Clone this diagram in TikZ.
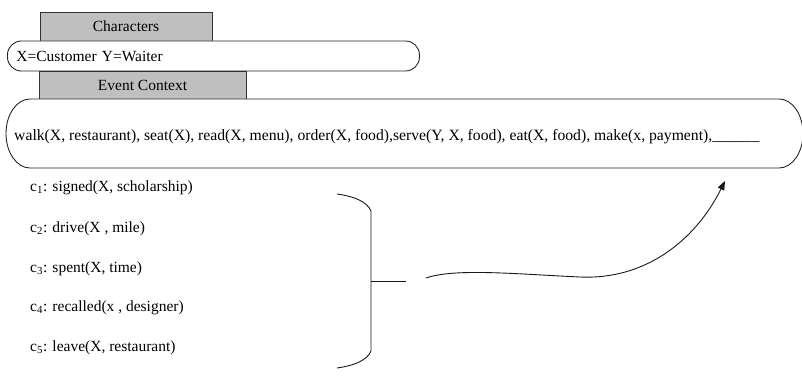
\documentclass[tikz,border=0pt]{standalone}
\usepackage{fontspec}
\setmainfont{Liberation Serif}
\usetikzlibrary{arrows.meta}
\begin{document}
\begin{tikzpicture}[x=1pt,y=1pt,
  txt/.style={font=\fontsize{15.5}{18}\selectfont, inner sep=0pt},
  tab/.style={draw=black!80, line width=0.9pt, fill=black!25, inner sep=0pt,
    font=\fontsize{15.5}{18}\selectfont},
  pill/.style={draw=black!85, line width=0.9pt, fill=white, align=left,
    font=\fontsize{15.5}{18}\selectfont, inner ysep=0pt},
  frame/.style={draw=black!85, line width=0.9pt, fill=white},
  link/.style={line width=0.9pt, black!90}]
\useasboundingbox (0,0) rectangle (802,391);

% header tabs
\node[tab, minimum width=172, minimum height=29] (chars) at (126,364.5) {Characters};
\node[tab, minimum width=207, minimum height=28] (evtab) at (142.5,306) {Event Context};

% character binding
\node[pill, anchor=west, rounded corners=14, minimum height=30,
  text width=394, inner xsep=9] (bind) at (7,335) {X=Customer Y=Waiter};

% event sequence: long box with elliptical ends
\coordinate (evl) at (30,292);
\coordinate (evr) at (779,223);
\draw[frame] (evl) -- (779,292)
  arc[start angle=90, end angle=-90, x radius=24, y radius=34.5]
  -- (30,223)
  arc[start angle=270, end angle=90, x radius=24, y radius=34.5] -- cycle;
\node[txt, anchor=west, font=\fontsize{15.7}{18}\selectfont] (events) at (14,254)
  {walk(X, restaurant), seat(X), read(X, menu), order(X, food),serve(Y, X, food), eat(X, food), make(x, payment),\_\_\_\_\_\_};

% candidate events
\node[txt, anchor=west] (c1) at (30,203) {c\textsubscript{1}: signed(X, scholarship)};
\node[txt, anchor=west] (c2) at (30,162.5) {c\textsubscript{2}: drive(X , mile)};
\node[txt, anchor=west] (c3) at (30,122.5) {c\textsubscript{3}: spent(X, time)};
\node[txt, anchor=west] (c4) at (30,83) {c\textsubscript{4}: recalled(x , designer)};
\node[txt, anchor=west] (c5) at (30,43.5) {c\textsubscript{5}: leave(X, restaurant)};

% brace grouping the candidates
\coordinate (btop) at (337,197);
\coordinate (bbot) at (337,23);
\coordinate (bmid) at (371,110);
\coordinate (btip) at (406,110);
\draw[link] (btop) .. controls (352,195) and (367,190) .. (371,180)
  -- (371,40) .. controls (367,30) and (352,25) .. (bbot);
\draw[link] (bmid) -- (btip);

% arrow into the blank slot
\coordinate (astart) at (426,113);
\coordinate (aend) at (725,210);
\draw[link, -{Triangle[length=9pt,width=7pt]}] (astart)
  .. controls (455,123) and (515,117) .. (580,114)
  .. controls (645,111) and (695,150) .. (aend);
\end{tikzpicture}
\end{document}
